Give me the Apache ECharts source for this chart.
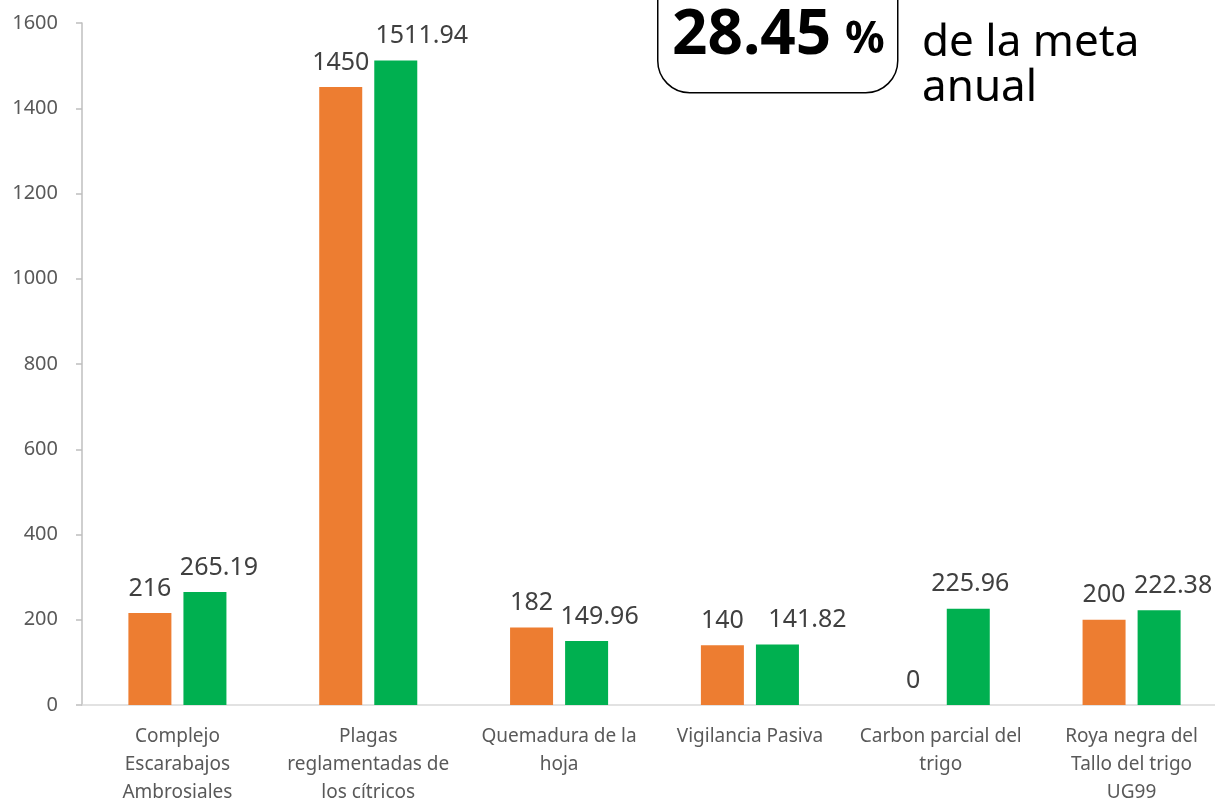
<!DOCTYPE html>
<html>
<head>
<meta charset="utf-8">
<script src="https://cdn.jsdelivr.net/npm/echarts@6/dist/echarts.min.js"></script>
<style>
html,body{margin:0;padding:0;background:#fff;overflow:hidden;}
#c{width:1227px;height:807px;}
</style>
</head>
<body>
<div id="c"></div>
<script>
// ---- data ----
var categories = [
  'Complejo\nEscarabajos\nAmbrosiales',
  'Plagas\nreglamentadas de\nlos cítricos',
  'Quemadura de la\nhoja',
  'Vigilancia Pasiva',
  'Carbon parcial del\ntrigo',
  'Roya negra del\nTallo del trigo\nUG99'
];
var seriesA = [216, 1450, 182, 140, 0, 200];
var seriesB = [265.19, 1511.94, 149.96, 141.82, 225.96, 222.38];
var yTicks = {min: 0, max: 1600, interval: 200};
var badgeValue = '28.45';
var badgeUnit = '%';
var badgeText = ['de la meta', 'anual'];

// label horizontal nudges (style only)
var labelShiftB = [14, 26, 13, 30, 2, 14];

var FONT = '"Noto Sans", "Open Sans", sans-serif';
var chart = echarts.init(document.getElementById('c'));

var dataB = seriesB.map(function (v, i) {
  return {value: v, label: {offset: [labelShiftB[i], 0]}};
});

chart.setOption({
  animation: false,
  grid: {left: 82, top: 23, right: 0, bottom: 102, containLabel: false},
  xAxis: {
    type: 'category',
    data: categories,
    axisTick: {show: false},
    axisLine: {lineStyle: {color: '#d9d9d9', width: 1.5}},
    axisLabel: {
      interval: 0, color: '#595959', fontFamily: FONT, fontSize: 19,
      lineHeight: 28, margin: 18
    }
  },
  yAxis: {
    type: 'value',
    min: yTicks.min, max: yTicks.max, interval: yTicks.interval,
    axisLine: {show: true, lineStyle: {color: '#bfbfbf', width: 1.5}},
    axisTick: {show: true, length: 6, lineStyle: {color: '#bfbfbf', width: 1.5}},
    splitLine: {show: false},
    axisLabel: {color: '#595959', fontFamily: FONT, fontSize: 20, margin: 24,
                formatter: function (v) { return String(v); }}
  },
  series: [
    {
      type: 'bar', data: seriesA, barWidth: 43, barGap: '28%',
      itemStyle: {color: '#ED7D31'},
      label: {show: true, position: 'top', distance: 12, color: '#404040',
              fontFamily: FONT, fontSize: 25}
    },
    {
      type: 'bar', data: dataB, barWidth: 43, barGap: '28%',
      itemStyle: {color: '#00B050'},
      label: {show: true, position: 'top', distance: 12, color: '#404040',
              fontFamily: FONT, fontSize: 25}
    }
  ],
  graphic: [
    {type: 'rect', left: 657, top: -40, shape: {x: 0, y: 0, width: 240, height: 132, r: 32},
     style: {fill: '#fff', stroke: '#000', lineWidth: 1.5}, z: 10},
    {type: 'text', x: 672, y: 36, z: 11,
     style: {text: badgeValue, font: 'bold 62px ' + FONT, fill: '#000', verticalAlign: 'middle', align: 'left'}},
    {type: 'text', x: 845, y: 40, z: 11,
     style: {text: badgeUnit, font: 'bold 44px ' + FONT, fill: '#000', verticalAlign: 'middle', align: 'left'}},
    {type: 'text', x: 922, y: 43, z: 11,
     style: {text: badgeText[0], font: '44px ' + FONT, fill: '#000', verticalAlign: 'middle', align: 'left'}},
    {type: 'text', x: 922, y: 88, z: 11,
     style: {text: badgeText[1], font: '44px ' + FONT, fill: '#000', verticalAlign: 'middle', align: 'left'}}
  ]
});
</script>
</body>
</html>
